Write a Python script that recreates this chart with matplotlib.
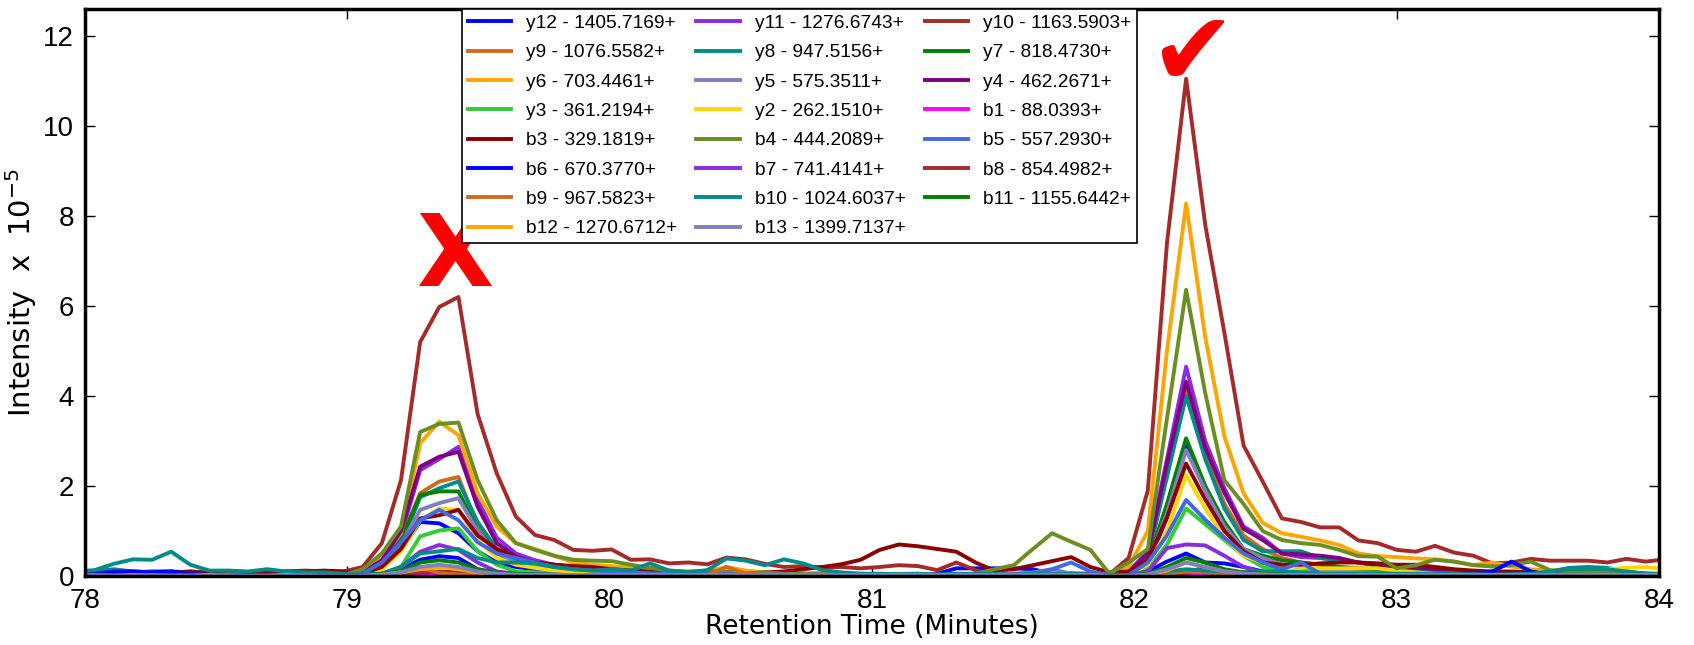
import numpy as np
import matplotlib.pyplot as plt

# acquisition grid: one scan every 0.073 min
scan_times = 78.0365 + 0.073 * np.arange(-1, 83)

# fragment ion traces, intensity x 1e-5
y12 = [0.03, 0.05, 0.1, 0.08, 0.1, 0.1, 0.08, 0.03, 0.02, 0.02, 0.03, 0.02, 0.02, 0.02,
       0.0, 0.03, 0.2, 0.6, 1.2, 1.17, 0.95, 0.55, 0.3, 0.2, 0.15, 0.1, 0.08, 0.06,
       0.05, 0.04, 0.04, 0.03, 0.03, 0.03, 0.04, 0.03, 0.03, 0.03, 0.03, 0.03, 0.03, 0.03,
       0.03, 0.03, 0.03, 0.05, 0.17, 0.17, 0.17, 0.17, 0.15, 0.05, 0.03, 0.02, 0.02,
       0.05, 0.25, 1.3, 2.91, 1.9, 1.1, 0.5, 0.35, 0.25, 0.2, 0.15, 0.1, 0.08,
       0.06, 0.05, 0.04, 0.04, 0.03, 0.03, 0.03, 0.03, 0.02, 0.02, 0.02, 0.02, 0.02, 0.02, 0.02, 0.02]
y11 = [0.0, 0.02, 0.03, 0.05, 0.03, 0.02, 0.0, 0.0, 0.02, 0.0, 0.0, 0.02, 0.02, 0.0,
       0.0, 0.05, 0.3, 0.9, 2.35, 2.6, 2.87, 1.7, 0.85, 0.5, 0.35, 0.25, 0.2, 0.18,
       0.15, 0.12, 0.1, 0.08, 0.05, 0.05, 0.05, 0.03, 0.03, 0.05, 0.03, 0.02, 0.02, 0.02,
       0.03, 0.02, 0.02, 0.02, 0.03, 0.02, 0.02, 0.02, 0.03, 0.02, 0.02, 0.02, 0.0,
       0.1, 0.55, 2.6, 4.65, 3.0, 1.95, 1.1, 0.85, 0.5, 0.42, 0.4, 0.35, 0.3,
       0.25, 0.2, 0.15, 0.12, 0.1, 0.08, 0.06, 0.05, 0.05, 0.04, 0.04, 0.03, 0.03, 0.02, 0.02, 0.02]
y10 = [0.05, 0.05, 0.08, 0.1, 0.08, 0.05, 0.1, 0.08, 0.05, 0.05, 0.08, 0.1, 0.12, 0.1,
       0.1, 0.2, 0.73, 2.13, 5.2, 5.98, 6.2, 3.6, 2.28, 1.32, 0.91, 0.8, 0.58, 0.56,
       0.59, 0.36, 0.37, 0.28, 0.3, 0.26, 0.41, 0.37, 0.27, 0.2, 0.22, 0.19, 0.2, 0.17,
       0.2, 0.24, 0.22, 0.13, 0.3, 0.13, 0.03, 0.05, 0.04, 0.05, 0.06, 0.05, 0.04,
       0.4, 1.9, 7.4, 11.05, 7.8, 5.4, 2.9, 2.1, 1.28, 1.2, 1.08, 1.08, 0.79,
       0.73, 0.58, 0.54, 0.67, 0.52, 0.45, 0.28, 0.3, 0.38, 0.34, 0.34, 0.34, 0.3, 0.38, 0.32, 0.37]
y9 = [0.0, 0.0, 0.02, 0.0, 0.02, 0.0, 0.02, 0.0, 0.0, 0.02, 0.0, 0.02, 0.0, 0.0,
      0.0, 0.05, 0.3, 0.8, 1.84, 2.1, 2.2, 1.1, 0.6, 0.4, 0.3, 0.22, 0.18, 0.15,
      0.12, 0.1, 0.08, 0.06, 0.05, 0.05, 0.1, 0.05, 0.03, 0.03, 0.02, 0.02, 0.02, 0.02,
      0.02, 0.03, 0.02, 0.02, 0.02, 0.02, 0.02, 0.03, 0.02, 0.02, 0.02, 0.02, 0.0,
      0.05, 0.45, 2.3, 4.13, 2.7, 1.6, 0.9, 0.6, 0.4, 0.3, 0.25, 0.2, 0.18,
      0.15, 0.12, 0.1, 0.08, 0.08, 0.06, 0.05, 0.05, 0.04, 0.03, 0.03, 0.03, 0.02, 0.02, 0.02, 0.02]
y8 = [0.05, 0.1, 0.15, 0.1, 0.08, 0.05, 0.05, 0.03, 0.03, 0.02, 0.02, 0.02, 0.02, 0.02,
      0.02, 0.05, 0.3, 0.7, 1.75, 1.95, 2.1, 1.2, 0.6, 0.4, 0.3, 0.25, 0.2, 0.18,
      0.15, 0.12, 0.1, 0.08, 0.06, 0.05, 0.05, 0.04, 0.03, 0.03, 0.03, 0.02, 0.02, 0.02,
      0.02, 0.02, 0.02, 0.02, 0.02, 0.02, 0.02, 0.02, 0.03, 0.02, 0.02, 0.02, 0.0,
      0.05, 0.4, 2.2, 4.0, 2.6, 1.5, 0.8, 0.55, 0.55, 0.55, 0.4, 0.35, 0.3,
      0.22, 0.2, 0.15, 0.12, 0.1, 0.08, 0.05, 0.05, 0.05, 0.1, 0.18, 0.2, 0.18, 0.1, 0.05, 0.02]
y7 = [0.0, 0.02, 0.02, 0.03, 0.02, 0.0, 0.02, 0.0, 0.0, 0.02, 0.02, 0.0, 0.02, 0.0,
      0.0, 0.05, 0.3, 0.8, 1.8, 1.88, 1.88, 1.0, 0.55, 0.35, 0.25, 0.2, 0.15, 0.12,
      0.1, 0.08, 0.06, 0.05, 0.05, 0.04, 0.04, 0.03, 0.03, 0.03, 0.02, 0.02, 0.02, 0.02,
      0.02, 0.02, 0.02, 0.02, 0.02, 0.02, 0.02, 0.02, 0.03, 0.02, 0.02, 0.02, 0.0,
      0.05, 0.3, 1.6, 3.06, 2.0, 1.2, 0.6, 0.45, 0.35, 0.3, 0.25, 0.2, 0.15,
      0.12, 0.1, 0.08, 0.06, 0.05, 0.04, 0.03, 0.03, 0.03, 0.02, 0.02, 0.02, 0.02, 0.02, 0.02, 0.02]
y6 = [0.0, 0.0, 0.02, 0.05, 0.03, 0.0, 0.02, 0.04, 0.03, 0.0, 0.02, 0.03, 0.02, 0.0,
      0.02, 0.1, 0.4, 0.95, 2.95, 3.43, 3.13, 1.84, 1.1, 0.73, 0.6, 0.45, 0.3, 0.25,
      0.22, 0.18, 0.15, 0.1, 0.08, 0.1, 0.2, 0.12, 0.08, 0.05, 0.05, 0.08, 0.06, 0.05,
      0.03, 0.05, 0.05, 0.03, 0.02, 0.03, 0.02, 0.03, 0.05, 0.03, 0.02, 0.02, 0.0,
      0.2, 1.0, 5.0, 8.28, 5.3, 3.1, 1.84, 1.18, 0.95, 0.87, 0.79, 0.69, 0.5,
      0.44, 0.42, 0.39, 0.37, 0.32, 0.24, 0.3, 0.21, 0.15, 0.12, 0.1, 0.1, 0.08, 0.06, 0.05, 0.03]
y5 = [0.0, 0.02, 0.03, 0.03, 0.02, 0.02, 0.0, 0.02, 0.02, 0.0, 0.02, 0.02, 0.0, 0.0,
      0.0, 0.05, 0.25, 0.7, 1.47, 1.62, 1.73, 1.0, 0.5, 0.3, 0.2, 0.15, 0.12, 0.1,
      0.08, 0.06, 0.05, 0.05, 0.04, 0.03, 0.03, 0.03, 0.02, 0.02, 0.02, 0.02, 0.02, 0.02,
      0.02, 0.02, 0.02, 0.02, 0.02, 0.03, 0.03, 0.05, 0.08, 0.15, 0.05, 0.02, 0.0,
      0.05, 0.3, 1.4, 2.8, 1.9, 1.1, 0.6, 0.4, 0.25, 0.2, 0.15, 0.1, 0.08,
      0.06, 0.05, 0.04, 0.03, 0.03, 0.03, 0.02, 0.02, 0.02, 0.02, 0.02, 0.02, 0.02, 0.02, 0.02, 0.02]
y4 = [0.0, 0.02, 0.03, 0.03, 0.02, 0.0, 0.02, 0.02, 0.0, 0.0, 0.02, 0.02, 0.03, 0.02,
      0.02, 0.08, 0.35, 1.0, 2.43, 2.65, 2.76, 1.54, 0.73, 0.43, 0.3, 0.25, 0.2, 0.15,
      0.12, 0.1, 0.08, 0.06, 0.05, 0.05, 0.04, 0.03, 0.03, 0.03, 0.05, 0.03, 0.02, 0.02,
      0.02, 0.02, 0.02, 0.03, 0.02, 0.02, 0.02, 0.03, 0.03, 0.02, 0.02, 0.02, 0.0,
      0.08, 0.5, 2.5, 4.32, 2.85, 1.85, 1.05, 0.8, 0.5, 0.48, 0.45, 0.4, 0.3,
      0.25, 0.2, 0.18, 0.15, 0.12, 0.1, 0.08, 0.06, 0.05, 0.04, 0.03, 0.03, 0.02, 0.02, 0.02, 0.02]
y3 = [0.0, 0.0, 0.02, 0.02, 0.0, 0.0, 0.02, 0.0, 0.0, 0.0, 0.02, 0.0, 0.0, 0.0,
      0.0, 0.0, 0.05, 0.2, 0.88, 1.01, 1.06, 0.55, 0.25, 0.1, 0.08, 0.05, 0.05, 0.03,
      0.03, 0.03, 0.02, 0.02, 0.02, 0.02, 0.02, 0.02, 0.02, 0.02, 0.02, 0.02, 0.02, 0.02,
      0.02, 0.02, 0.02, 0.02, 0.02, 0.02, 0.02, 0.02, 0.02, 0.02, 0.02, 0.02, 0.0,
      0.02, 0.15, 0.7, 1.5, 1.15, 0.8, 0.45, 0.2, 0.1, 0.1, 0.08, 0.05, 0.05,
      0.04, 0.03, 0.03, 0.02, 0.02, 0.02, 0.02, 0.02, 0.02, 0.02, 0.02, 0.02, 0.02, 0.02, 0.02, 0.02]
y2 = [0.0, 0.0, 0.02, 0.02, 0.0, 0.0, 0.02, 0.02, 0.0, 0.02, 0.0, 0.02, 0.02, 0.0,
      0.0, 0.03, 0.15, 0.55, 1.24, 1.5, 1.47, 0.8, 0.4, 0.25, 0.18, 0.12, 0.1, 0.08,
      0.06, 0.05, 0.05, 0.04, 0.03, 0.03, 0.03, 0.02, 0.02, 0.02, 0.02, 0.02, 0.02, 0.02,
      0.02, 0.02, 0.02, 0.02, 0.02, 0.02, 0.02, 0.02, 0.02, 0.02, 0.02, 0.02, 0.0,
      0.02, 0.25, 1.0, 2.24, 1.5, 0.85, 0.45, 0.3, 0.22, 0.2, 0.17, 0.17, 0.17,
      0.17, 0.12, 0.08, 0.05, 0.05, 0.05, 0.05, 0.05, 0.05, 0.08, 0.1, 0.12, 0.15, 0.18, 0.2, 0.15]
b1 = [0.0, 0.0, 0.0, 0.02, 0.0, 0.0, 0.0, 0.0, 0.0, 0.0, 0.0, 0.0, 0.0, 0.0,
      0.0, 0.0, 0.0, 0.02, 0.05, 0.05, 0.05, 0.02, 0.0, 0.0, 0.0, 0.0, 0.0, 0.0,
      0.0, 0.0, 0.0, 0.0, 0.0, 0.0, 0.0, 0.0, 0.0, 0.0, 0.0, 0.0, 0.0, 0.0,
      0.0, 0.0, 0.0, 0.0, 0.0, 0.0, 0.0, 0.0, 0.0, 0.0, 0.0, 0.0, 0.0,
      0.0, 0.0, 0.02, 0.05, 0.05, 0.03, 0.02, 0.0, 0.0, 0.0, 0.0, 0.0, 0.0,
      0.0, 0.0, 0.0, 0.0, 0.0, 0.0, 0.0, 0.0, 0.0, 0.0, 0.0, 0.0, 0.0, 0.0, 0.0, 0.0]
b3 = [0.08, 0.05, 0.03, 0.05, 0.05, 0.08, 0.1, 0.05, 0.03, 0.05, 0.08, 0.1, 0.1, 0.12,
      0.1, 0.05, 0.2, 0.6, 1.28, 1.35, 1.47, 0.9, 0.6, 0.4, 0.3, 0.25, 0.22, 0.2,
      0.15, 0.12, 0.1, 0.08, 0.06, 0.05, 0.05, 0.05, 0.08, 0.1, 0.15, 0.2, 0.26, 0.36,
      0.58, 0.7, 0.66, 0.6, 0.54, 0.3, 0.12, 0.15, 0.24, 0.33, 0.42, 0.2, 0.08,
      0.1, 0.35, 1.3, 2.5, 1.7, 1.0, 0.55, 0.3, 0.25, 0.25, 0.28, 0.3, 0.3,
      0.28, 0.25, 0.25, 0.2, 0.15, 0.12, 0.1, 0.1, 0.08, 0.05, 0.05, 0.05, 0.03, 0.03, 0.03, 0.02]
b4 = [0.0, 0.0, 0.02, 0.03, 0.02, 0.0, 0.0, 0.02, 0.0, 0.0, 0.02, 0.0, 0.0, 0.0,
      0.02, 0.15, 0.5, 1.1, 3.2, 3.38, 3.41, 2.13, 1.24, 0.73, 0.58, 0.45, 0.36, 0.34,
      0.33, 0.25, 0.18, 0.12, 0.1, 0.12, 0.08, 0.05, 0.08, 0.05, 0.05, 0.03, 0.02, 0.02,
      0.03, 0.02, 0.04, 0.02, 0.03, 0.05, 0.15, 0.24, 0.6, 0.95, 0.76, 0.58, 0.05,
      0.3, 0.6, 3.5, 6.36, 4.06, 2.13, 1.6, 1.0, 0.8, 0.73, 0.69, 0.58, 0.44,
      0.43, 0.17, 0.24, 0.36, 0.32, 0.24, 0.21, 0.24, 0.32, 0.13, 0.1, 0.1, 0.08, 0.08, 0.06, 0.05]
b5 = [0.02, 0.03, 0.05, 0.05, 0.03, 0.05, 0.03, 0.02, 0.02, 0.02, 0.02, 0.02, 0.02, 0.02,
      0.0, 0.05, 0.3, 0.75, 1.24, 1.47, 1.24, 0.75, 0.5, 0.4, 0.3, 0.2, 0.15, 0.12,
      0.1, 0.08, 0.06, 0.05, 0.05, 0.04, 0.04, 0.03, 0.03, 0.03, 0.02, 0.02, 0.02, 0.02,
      0.02, 0.02, 0.02, 0.02, 0.02, 0.02, 0.02, 0.02, 0.05, 0.15, 0.3, 0.1, 0.02,
      0.02, 0.3, 0.9, 1.69, 1.25, 0.85, 0.5, 0.3, 0.15, 0.3, 0.05, 0.03, 0.02,
      0.02, 0.02, 0.02, 0.02, 0.02, 0.02, 0.02, 0.02, 0.02, 0.02, 0.02, 0.02, 0.02, 0.02, 0.02, 0.02]
b6 = [0.02, 0.05, 0.1, 0.1, 0.08, 0.1, 0.05, 0.02, 0.02, 0.02, 0.02, 0.02, 0.02, 0.02,
      0.0, 0.0, 0.05, 0.15, 0.36, 0.44, 0.4, 0.15, 0.05, 0.03, 0.03, 0.03, 0.02, 0.02,
      0.02, 0.02, 0.02, 0.02, 0.02, 0.02, 0.02, 0.02, 0.02, 0.02, 0.02, 0.02, 0.02, 0.02,
      0.02, 0.02, 0.02, 0.02, 0.02, 0.02, 0.02, 0.02, 0.02, 0.02, 0.02, 0.02, 0.0,
      0.0, 0.1, 0.32, 0.5, 0.3, 0.28, 0.2, 0.1, 0.05, 0.03, 0.02, 0.02, 0.02,
      0.02, 0.02, 0.02, 0.03, 0.03, 0.05, 0.1, 0.32, 0.1, 0.03, 0.02, 0.02, 0.02, 0.02, 0.02, 0.02]
b7 = [0.0, 0.0, 0.02, 0.0, 0.0, 0.02, 0.0, 0.0, 0.0, 0.0, 0.0, 0.0, 0.0, 0.0,
      0.0, 0.0, 0.05, 0.2, 0.54, 0.69, 0.58, 0.3, 0.1, 0.05, 0.03, 0.02, 0.02, 0.02,
      0.02, 0.02, 0.02, 0.02, 0.02, 0.02, 0.02, 0.02, 0.02, 0.02, 0.02, 0.02, 0.02, 0.02,
      0.02, 0.02, 0.02, 0.02, 0.02, 0.02, 0.02, 0.02, 0.02, 0.02, 0.02, 0.02, 0.0,
      0.02, 0.1, 0.62, 0.7, 0.68, 0.45, 0.2, 0.08, 0.05, 0.03, 0.02, 0.02, 0.02,
      0.02, 0.02, 0.02, 0.02, 0.02, 0.02, 0.02, 0.02, 0.02, 0.02, 0.02, 0.02, 0.02, 0.02, 0.02, 0.02]
b8 = [0.02, 0.02, 0.02, 0.02, 0.02, 0.02, 0.02, 0.02, 0.02, 0.02, 0.02, 0.02, 0.02, 0.02,
      0.0, 0.0, 0.02, 0.05, 0.08, 0.1, 0.08, 0.05, 0.03, 0.02, 0.02, 0.02, 0.02, 0.02,
      0.02, 0.02, 0.02, 0.02, 0.02, 0.02, 0.02, 0.02, 0.02, 0.02, 0.02, 0.02, 0.02, 0.02,
      0.02, 0.02, 0.02, 0.02, 0.02, 0.02, 0.02, 0.02, 0.02, 0.02, 0.02, 0.02, 0.0,
      0.0, 0.0, 0.02, 0.07, 0.2, 0.1, 0.05, 0.03, 0.02, 0.02, 0.02, 0.02, 0.02,
      0.02, 0.02, 0.02, 0.02, 0.02, 0.02, 0.02, 0.02, 0.02, 0.02, 0.02, 0.02, 0.02, 0.02, 0.02, 0.02]
b9 = [0.0, 0.0, 0.02, 0.0, 0.0, 0.0, 0.02, 0.0, 0.0, 0.0, 0.02, 0.0, 0.0, 0.0,
      0.0, 0.0, 0.02, 0.08, 0.2, 0.06, 0.03, 0.02, 0.02, 0.02, 0.02, 0.02, 0.02, 0.02,
      0.02, 0.02, 0.02, 0.02, 0.02, 0.02, 0.2, 0.05, 0.02, 0.02, 0.02, 0.02, 0.02, 0.02,
      0.02, 0.02, 0.02, 0.02, 0.02, 0.02, 0.02, 0.02, 0.02, 0.02, 0.02, 0.02, 0.0,
      0.0, 0.02, 0.05, 0.1, 0.08, 0.05, 0.03, 0.02, 0.02, 0.02, 0.02, 0.02, 0.02,
      0.02, 0.02, 0.02, 0.02, 0.02, 0.02, 0.02, 0.02, 0.02, 0.02, 0.02, 0.02, 0.02, 0.02, 0.02, 0.02]
b10 = [0.1, 0.13, 0.27, 0.37, 0.36, 0.54, 0.25, 0.12, 0.12, 0.1, 0.15, 0.1, 0.08, 0.08,
       0.05, 0.03, 0.05, 0.2, 0.5, 0.55, 0.6, 0.4, 0.3, 0.3, 0.28, 0.2, 0.15, 0.12,
       0.15, 0.12, 0.28, 0.12, 0.08, 0.13, 0.39, 0.34, 0.24, 0.37, 0.28, 0.13, 0.08, 0.05,
       0.05, 0.04, 0.05, 0.03, 0.05, 0.05, 0.04, 0.03, 0.05, 0.04, 0.05, 0.03, 0.02,
       0.02, 0.05, 0.1, 0.15, 0.12, 0.1, 0.08, 0.1, 0.1, 0.08, 0.05, 0.05, 0.05,
       0.05, 0.05, 0.05, 0.05, 0.04, 0.04, 0.03, 0.04, 0.05, 0.1, 0.15, 0.16, 0.15, 0.1, 0.05, 0.03]
b11 = [0.0, 0.0, 0.02, 0.02, 0.0, 0.0, 0.02, 0.0, 0.0, 0.0, 0.02, 0.0, 0.0, 0.0,
       0.0, 0.0, 0.05, 0.1, 0.3, 0.35, 0.3, 0.15, 0.08, 0.05, 0.03, 0.02, 0.02, 0.02,
       0.02, 0.02, 0.02, 0.02, 0.02, 0.02, 0.02, 0.02, 0.02, 0.02, 0.02, 0.02, 0.02, 0.02,
       0.02, 0.02, 0.02, 0.02, 0.02, 0.02, 0.02, 0.02, 0.02, 0.02, 0.02, 0.02, 0.0,
       0.0, 0.05, 0.2, 0.4, 0.3, 0.15, 0.08, 0.05, 0.03, 0.02, 0.02, 0.02, 0.02,
       0.02, 0.02, 0.02, 0.02, 0.02, 0.02, 0.02, 0.02, 0.02, 0.02, 0.02, 0.02, 0.02, 0.02, 0.02, 0.02]
b12 = [0.0, 0.0, 0.0, 0.02, 0.0, 0.0, 0.0, 0.02, 0.0, 0.0, 0.0, 0.02, 0.0, 0.0,
       0.0, 0.0, 0.03, 0.08, 0.15, 0.2, 0.15, 0.08, 0.03, 0.02, 0.02, 0.02, 0.02, 0.02,
       0.02, 0.02, 0.02, 0.02, 0.02, 0.02, 0.02, 0.02, 0.02, 0.02, 0.02, 0.02, 0.02, 0.02,
       0.02, 0.02, 0.02, 0.02, 0.02, 0.02, 0.02, 0.02, 0.02, 0.02, 0.02, 0.02, 0.0,
       0.0, 0.03, 0.12, 0.3, 0.2, 0.1, 0.05, 0.03, 0.02, 0.02, 0.02, 0.02, 0.02,
       0.02, 0.02, 0.02, 0.02, 0.02, 0.02, 0.02, 0.02, 0.02, 0.02, 0.02, 0.02, 0.02, 0.02, 0.02, 0.02]
b13 = [0.0, 0.02, 0.0, 0.0, 0.02, 0.0, 0.0, 0.0, 0.02, 0.0, 0.0, 0.0, 0.02, 0.0,
       0.0, 0.0, 0.02, 0.08, 0.2, 0.25, 0.2, 0.1, 0.05, 0.03, 0.02, 0.02, 0.02, 0.02,
       0.02, 0.02, 0.02, 0.02, 0.02, 0.02, 0.02, 0.02, 0.02, 0.02, 0.02, 0.02, 0.02, 0.02,
       0.02, 0.02, 0.02, 0.02, 0.02, 0.02, 0.02, 0.02, 0.02, 0.02, 0.02, 0.02, 0.0,
       0.0, 0.03, 0.15, 0.3, 0.2, 0.1, 0.05, 0.03, 0.02, 0.02, 0.02, 0.02, 0.02,
       0.02, 0.02, 0.02, 0.02, 0.02, 0.02, 0.02, 0.02, 0.02, 0.02, 0.02, 0.02, 0.02, 0.02, 0.02, 0.02]

ion_labels = ["y12 - 1405.7169+", "y11 - 1276.6743+", "y10 - 1163.5903+",
              "y9 - 1076.5582+", "y8 - 947.5156+", "y7 - 818.4730+",
              "y6 - 703.4461+", "y5 - 575.3511+", "y4 - 462.2671+",
              "y3 - 361.2194+", "y2 - 262.1510+", "b1 - 88.0393+",
              "b3 - 329.1819+", "b4 - 444.2089+", "b5 - 557.2930+",
              "b6 - 670.3770+", "b7 - 741.4141+", "b8 - 854.4982+",
              "b9 - 967.5823+", "b10 - 1024.6037+", "b11 - 1155.6442+",
              "b12 - 1270.6712+", "b13 - 1399.7137+"]
ion_traces = [y12, y11, y10, y9, y8, y7, y6, y5, y4, y3, y2, b1,
              b3, b4, b5, b6, b7, b8, b9, b10, b11, b12, b13]

palette = ["#0000FF", "#8A2BE2", "#A52A2A", "#D2691E", "#008B8B", "#008000",
           "#FFA500", "#8080C0", "#800080", "#32CD32", "#FFD700", "#FF00FF",
           "#8B0000", "#6B8E23", "#4169E1"]

for tr in ion_traces:
    assert len(tr) == len(scan_times)

fig = plt.figure(figsize=(16.94, 6.45), dpi=100)
ax = fig.add_axes([0.0502, 0.107, 0.9291, 0.879])

handles = []
for i, (lab, tr) in enumerate(zip(ion_labels, ion_traces)):
    h, = ax.plot(scan_times, tr, color=palette[i % len(palette)], lw=2.8, label=lab)
    handles.append(h)

ax.set_xlim(78, 84)
ax.set_ylim(0, 12.6)
ax.set_xticks(range(78, 85))
ax.set_yticks(range(0, 13, 2))

tick_font = {"family": ["Liberation Sans", "DejaVu Sans"], "size": 20}
ax.set_xticklabels([str(v) for v in range(78, 85)], fontdict=tick_font)
ax.set_yticklabels([str(v) for v in range(0, 13, 2)], fontdict=tick_font)
ax.tick_params(direction="in", length=7, width=1, top=True, right=True)
ax.tick_params(axis="x", pad=9)
ax.tick_params(axis="y", pad=8)
for sp in ax.spines.values():
    sp.set_linewidth(2.5)

ax.set_xlabel("Retention Time (Minutes)", fontsize=19, family="DejaVu Sans", labelpad=0)
ax.set_ylabel(r"Intensity  x  10$^{-5}$", fontsize=21, family="DejaVu Sans", labelpad=3)

# legend is filled row by row: y12 y11 y10 / y9 y8 y7 / ...
ncol = 3
order = [i for c in range(ncol) for i in range(c, len(handles), ncol)]
leg = ax.legend([handles[i] for i in order], [ion_labels[i] for i in order],
                ncol=ncol, loc="upper left", bbox_to_anchor=(0.2395, 1.0),
                borderaxespad=0, fancybox=False, framealpha=1, edgecolor="black",
                prop={"family": ["Liberation Sans", "DejaVu Sans"], "size": 13.8},
                handlelength=2.25, handletextpad=0.8, columnspacing=1.0,
                labelspacing=0.62, borderpad=0.3)
leg.get_frame().set_linewidth(1.2)

# marks for the rejected and the accepted peak
ax.text(79.41, 7.05, "X", color="red", fontsize=72, fontweight="bold",
        family="DejaVu Sans", ha="center", va="center")
ax.text(82.22, 11.55, "\u2714", color="red", fontsize=74,
        family="DejaVu Sans", ha="center", va="center")

fig.savefig("out.png", dpi=100)
